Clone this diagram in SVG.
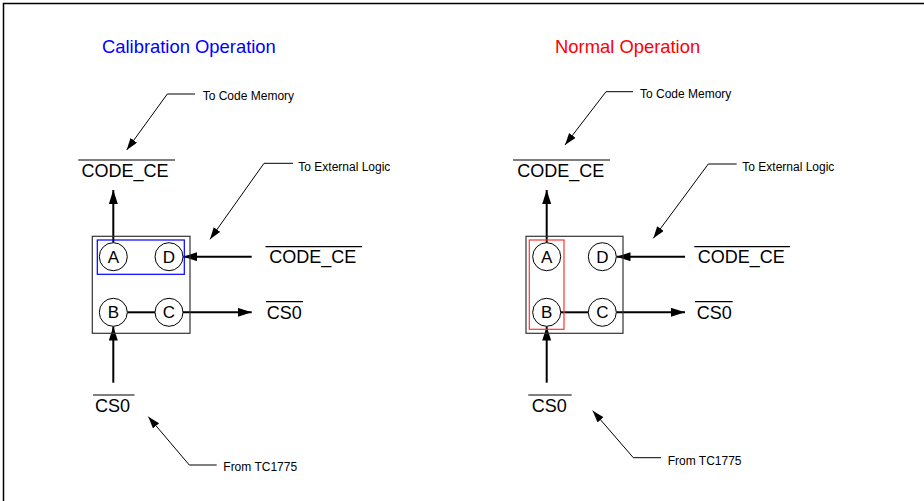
<svg xmlns="http://www.w3.org/2000/svg" width="924" height="501" viewBox="0 0 924 501">
<style>
text{font-family:"Liberation Sans",Arial,sans-serif;fill:#000}
.title{font-size:18.4px}
.sig{font-size:18px}
.note{font-size:12px}
.let{font-size:17px;text-anchor:middle}
.box{fill:none;stroke:#333;stroke-width:1.2}
.circ{fill:#fff;stroke:#000;stroke-width:1}
.wire{stroke:#000;stroke-width:2;fill:none}
.lead{stroke:#000;stroke-width:1;fill:none}
.ov{stroke:#000;stroke-width:1.2}
</style>
<defs>
<marker id="ah" markerUnits="userSpaceOnUse" markerWidth="15" markerHeight="10" refX="14" refY="4.5" orient="auto">
<path d="M0,0 L14,4.5 L0,9 z" fill="#000"/>
</marker>
<marker id="sh" markerUnits="userSpaceOnUse" markerWidth="13" markerHeight="9" refX="12" refY="4" orient="auto">
<path d="M0,0 L12,4 L0,8 z" fill="#000"/>
</marker>
</defs>
<rect width="924" height="501" fill="#fff"/>
<path d="M3.5,501 V3.5 H924" fill="none" stroke="#000" stroke-width="1.5"/>

<text class="title" x="102" y="53" style="fill:#0000ff">Calibration Operation</text>
<text class="title" x="555" y="53" style="fill:#ff0000">Normal Operation</text>

<g id="connectors">
<line class="wire" x1="113.3" y1="242.7" x2="113.3" y2="190" marker-end="url(#ah)"/>
<line class="wire" x1="251.7" y1="256.7" x2="183.3" y2="256.7" marker-end="url(#ah)"/>
<line class="wire" x1="127.3" y1="312.3" x2="155" y2="312.3"/>
<line class="wire" x1="183" y1="312.3" x2="251.7" y2="312.3" marker-end="url(#ah)"/>
<line class="wire" x1="113.3" y1="382.7" x2="113.3" y2="326.5" marker-end="url(#ah)"/>
<polyline class="lead" points="195,94 167.3,94 126.7,150" marker-end="url(#sh)"/>
<polyline class="lead" points="293,163.3 264,163.3 210,239.3" marker-end="url(#sh)"/>
<polyline class="lead" points="216.7,465 189.3,465 148.3,416.7" marker-end="url(#sh)"/>

<line class="wire" x1="546.7" y1="242.7" x2="546.7" y2="190" marker-end="url(#ah)"/>
<line class="wire" x1="685" y1="256.7" x2="616.5" y2="256.7" marker-end="url(#ah)"/>
<line class="wire" x1="560.7" y1="312.3" x2="588.3" y2="312.3"/>
<line class="wire" x1="616.3" y1="312.3" x2="685" y2="312.3" marker-end="url(#ah)"/>
<line class="wire" x1="546.7" y1="382.7" x2="546.7" y2="326.5" marker-end="url(#ah)"/>
<polyline class="lead" points="633,91.7 606,91.7 565,145" marker-end="url(#sh)"/>
<polyline class="lead" points="736.7,164 708.3,164 653.3,238.3" marker-end="url(#sh)"/>
<polyline class="lead" points="661,457.7 633.3,457.7 592.7,410.7" marker-end="url(#sh)"/>
</g>

<g id="cal-block">
<rect class="box" x="92.3" y="236.3" width="97.7" height="97"/>
<rect x="97.3" y="240" width="87" height="34.3" fill="none" stroke="#0000ff" stroke-width="1.2"/>
</g>
<g id="cal-A"><circle class="circ" cx="113.3" cy="256.7" r="14"/><text class="let" x="113.3" y="262.8">A</text></g>
<g id="cal-D"><circle class="circ" cx="169" cy="256.7" r="14"/><text class="let" x="169" y="262.8">D</text></g>
<g id="cal-B"><circle class="circ" cx="113.3" cy="312.3" r="14"/><text class="let" x="113.3" y="318.4">B</text></g>
<g id="cal-C"><circle class="circ" cx="169" cy="312.3" r="14"/><text class="let" x="169" y="318.4">C</text></g>

<g id="cal-code-ce-top"><line class="ov" x1="78.3" y1="160" x2="175" y2="160"/><text class="sig" x="81.5" y="176.7">CODE_CE</text></g>
<g id="cal-code-ce-in"><line class="ov" x1="265.5" y1="246.7" x2="362" y2="246.7"/><text class="sig" x="269.3" y="263.3">CODE_CE</text></g>
<g id="cal-cs0-out"><line class="ov" x1="266" y1="301.7" x2="303" y2="301.7"/><text class="sig" x="266.7" y="319">CS0</text></g>
<g id="cal-cs0-in"><line class="ov" x1="93" y1="395" x2="134.5" y2="395"/><text class="sig" x="95" y="411.7">CS0</text></g>
<g id="cal-note1"><text class="note" x="202.7" y="100">To Code Memory</text></g>
<g id="cal-note2"><text class="note" x="298.3" y="171">To External Logic</text></g>
<g id="cal-note3"><text class="note" x="223.3" y="471">From TC1775</text></g>

<g id="norm-block">
<rect class="box" x="526" y="236.3" width="97" height="97"/>
<rect x="529.3" y="240" width="34.7" height="89.3" fill="none" stroke="#ff3333" stroke-width="1.2"/>
</g>
<g id="norm-A"><circle class="circ" cx="546.7" cy="256.7" r="14"/><text class="let" x="546.7" y="262.8">A</text></g>
<g id="norm-D"><circle class="circ" cx="602.3" cy="256.7" r="14"/><text class="let" x="602.3" y="262.8">D</text></g>
<g id="norm-B"><circle class="circ" cx="546.7" cy="312.3" r="14"/><text class="let" x="546.7" y="318.4">B</text></g>
<g id="norm-C"><circle class="circ" cx="602.3" cy="312.3" r="14"/><text class="let" x="602.3" y="318.4">C</text></g>

<g id="norm-code-ce-top"><line class="ov" x1="513" y1="160" x2="610" y2="160"/><text class="sig" x="517.3" y="176.7">CODE_CE</text></g>
<g id="norm-code-ce-in"><line class="ov" x1="694.3" y1="246.7" x2="790" y2="246.7"/><text class="sig" x="697.7" y="263.3">CODE_CE</text></g>
<g id="norm-cs0-out"><line class="ov" x1="695" y1="301.7" x2="732.7" y2="301.7"/><text class="sig" x="696.7" y="319">CS0</text></g>
<g id="norm-cs0-in"><line class="ov" x1="528.3" y1="395" x2="571.7" y2="395"/><text class="sig" x="531.7" y="411.7">CS0</text></g>
<g id="norm-note1"><text class="note" x="640" y="98">To Code Memory</text></g>
<g id="norm-note2"><text class="note" x="742.3" y="171">To External Logic</text></g>
<g id="norm-note3"><text class="note" x="667.7" y="465">From TC1775</text></g>
</svg>
